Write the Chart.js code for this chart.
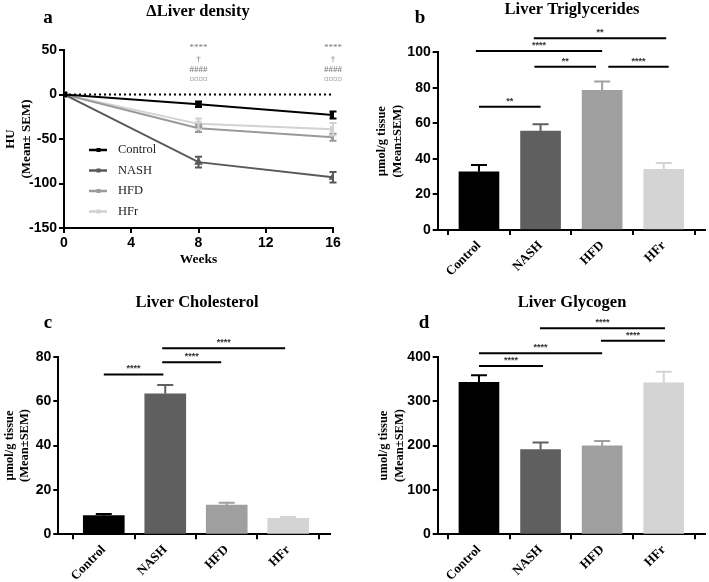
<!DOCTYPE html>
<html>
<head>
<meta charset="utf-8">
<script src="https://cdn.jsdelivr.net/npm/chart.js@4"></script>
<style>
  body { margin: 0; background: #fff; width: 709px; height: 582px; position: relative; overflow: hidden; }
  canvas { position: absolute; }
</style>
</head>
<body>
<canvas id="densityChart" width="355" height="290" style="left:0;top:0"></canvas>
<canvas id="trigChart" width="354" height="290" style="left:355px;top:0"></canvas>
<canvas id="cholChart" width="355" height="292" style="left:0;top:290px"></canvas>
<canvas id="glycChart" width="354" height="292" style="left:355px;top:290px"></canvas>
<script>
// groups shared by all panels
const groups = ['Control', 'NASH', 'HFD', 'HFr'];
const groupColors = ['#000000', '#5f5f5f', '#9f9f9f', '#d4d4d4'];

// panel a: change of liver density (HU)
const weeks = [0, 8, 16];
const weekTicks = [0, 4, 8, 12, 16];
const densityTicks = [-150, -100, -50, 0, 50];
const densityControl = [0, -11, -23];
const densityNASH = [0, -76, -93];
const densityHFD = [0, -38, -48];
const densityHFr = [0, -33, -39];
const densityControlSem = [0, 3, 4];
const densityNASHSem = [0, 6, 6];
const densityHFDSem = [0, 4, 4];
const densityHFrSem = [0, 6, 7];
const densityMarkWeeks = [8, 16];
const densityMarks = ['****', '†', '####', '¤¤¤¤'];

// panel b: triglycerides
const trigTicks = [0, 20, 40, 60, 80, 100];
const triglycerides = [32.8, 55.7, 78.6, 34.2];
const triglyceridesSem = [3.8, 3.8, 4.9, 3.5];
const trigSigFrom = [0, 0.9, 2.1, -0.05, 0.89];
const trigSigTo = [1, 1.9, 3.08, 2, 3.04];
const trigSigLevel = [69.4, 91.9, 91.9, 100.7, 107.9];
const trigSigLabel = ['**', '**', '****', '****', '**'];

// panel c: cholesterol
const cholTicks = [0, 20, 40, 60, 80];
const cholesterol = [8.4, 63.3, 13.2, 7.2];
const cholesterolSem = [0.8, 3.9, 1.0, 0.6];
const cholSigFrom = [0, 0.95, 0.95];
const cholSigTo = [0.97, 1.91, 2.95];
const cholSigLevel = [72, 77.5, 83.8];
const cholSigLabel = ['****', '****', '****'];

// panel d: glycogen
const glycTicks = [0, 100, 200, 300, 400];
const glycogen = [342, 191, 199, 341];
const glycogenSem = [16, 16, 11, 25];
const glycSigFrom = [0, 0, 1.98, 0.99];
const glycSigTo = [1.04, 2, 3.02, 3.02];
const glycSigLevel = [379, 407.6, 436, 464];
const glycSigLabel = ['****', '****', '****', '****'];

const serif = '"Liberation Serif", "Times New Roman", serif';
const sans = '"Liberation Sans", Arial, sans-serif';

const panelText = {
  id: 'panelText',
  afterDraw(chart, args, opts) {
    if (!opts.title) return;
    const ctx = chart.ctx;
    ctx.save();
    ctx.fillStyle = '#000';
    ctx.textBaseline = 'middle';
    ctx.textAlign = 'center';
    ctx.font = 'bold 16.5px ' + serif;
    ctx.fillText(opts.title, opts.titleX, opts.titleY);
    ctx.font = 'bold 19px ' + serif;
    ctx.fillText(opts.letter, opts.letterX, opts.letterY);
    ctx.restore();
  }
};

const errorBars = {
  id: 'errorBars',
  afterDatasetsDraw(chart) {
    const ctx = chart.ctx;
    const ys = chart.scales.y;
    ctx.save();
    chart.data.datasets.forEach((ds, i) => {
      if (!ds.sem) return;
      const meta = chart.getDatasetMeta(i);
      meta.data.forEach((el, j) => {
        const s = ds.sem[j];
        if (!s) return;
        const v = ds.data[j].y;
        const col = Array.isArray(ds.backgroundColor) ? ds.backgroundColor[j] : ds.borderColor;
        const top = ys.getPixelForValue(v + s);
        const bot = ds.bothSides ? ys.getPixelForValue(v - s) : ys.getPixelForValue(v);
        const cap = ds.bothSides ? 3.5 : 8;
        ctx.strokeStyle = col;
        ctx.lineWidth = 2;
        ctx.beginPath();
        ctx.moveTo(el.x, top); ctx.lineTo(el.x, bot);
        ctx.moveTo(el.x - cap, top); ctx.lineTo(el.x + cap, top);
        if (ds.bothSides) { ctx.moveTo(el.x - cap, bot); ctx.lineTo(el.x + cap, bot); }
        ctx.stroke();
      });
    });
    ctx.restore();
  }
};

const sigBars = {
  id: 'sigBars',
  afterDraw(chart, args, opts) {
    if (!opts.from) return;
    const {ctx, scales: {x, y}} = chart;
    ctx.save();
    opts.from.forEach((f, i) => {
      const x1 = x.getPixelForValue(f);
      const x2 = x.getPixelForValue(opts.to[i]);
      const py = y.getPixelForValue(opts.level[i]);
      ctx.strokeStyle = '#000';
      ctx.lineWidth = 2;
      ctx.beginPath(); ctx.moveTo(x1, py); ctx.lineTo(x2, py); ctx.stroke();
      ctx.fillStyle = '#333';
      ctx.font = 'bold 9px ' + sans;
      ctx.textAlign = 'center';
      ctx.textBaseline = 'alphabetic';
      ctx.fillText(opts.labels[i], (x1 + x2) / 2, py - 3);
    });
    ctx.restore();
  }
};

// zero line, stars and inside legend of panel a
const densityExtras = {
  id: 'densityExtras',
  beforeDatasetsDraw(chart) {
    const {ctx, chartArea, scales: {y}} = chart;
    const py = y.getPixelForValue(0);
    ctx.save();
    ctx.strokeStyle = '#000';
    ctx.lineWidth = 2;
    ctx.setLineDash([2, 3]);
    ctx.beginPath(); ctx.moveTo(chartArea.left, py); ctx.lineTo(chartArea.right, py); ctx.stroke();
    ctx.restore();
  },
  afterDraw(chart) {
    const {ctx, chartArea, scales: {x, y}} = chart;
    ctx.save();
    ctx.fillStyle = '#777';
    ctx.textAlign = 'center';
    ctx.textBaseline = 'middle';
    ctx.font = '9px ' + serif;
    const top = y.getPixelForValue(50);
    const offs = [-2, 10, 20, 30];
    densityMarkWeeks.forEach(w => {
      densityMarks.forEach((m, k) => ctx.fillText(m, x.getPixelForValue(w), top + offs[k]));
    });
    chart.data.datasets.forEach((ds, i) => {
      const ly = chartArea.top + 100 + i * 20.5;
      const lx = chartArea.left + 25;
      ctx.strokeStyle = ds.borderColor;
      ctx.lineWidth = 2.5;
      ctx.beginPath(); ctx.moveTo(lx, ly); ctx.lineTo(lx + 18, ly); ctx.stroke();
      ctx.fillStyle = ds.borderColor;
      ctx.fillRect(lx + 7.5, ly - 2, 4, 4);
      ctx.fillStyle = '#222';
      ctx.textAlign = 'left';
      ctx.font = '12.5px ' + serif;
      ctx.fillText(ds.label, lx + 29, ly);
    });
    ctx.restore();
  }
};

Chart.register(panelText, errorBars, sigBars);

const tickFont = {family: sans, size: 14, weight: 'bold'};
const axisGrid = {drawOnChartArea: false, drawTicks: true, tickLength: 5, color: '#000', lineWidth: 2};
const axisBorder = {display: true, color: '#000', width: 2};

const lineSet = (label, values, sem, color, style, rot) => ({
  label: label,
  data: weeks.map((w, i) => ({x: w, y: values[i]})),
  sem: sem,
  bothSides: true,
  borderColor: color,
  backgroundColor: color,
  borderWidth: 2,
  pointStyle: style,
  pointRotation: rot,
  pointRadius: 3,
  tension: 0
});

new Chart(document.getElementById('densityChart'), {
  type: 'line',
  data: {
    datasets: [
      lineSet('Control', densityControl, densityControlSem, groupColors[0], 'rect', 0),
      lineSet('NASH', densityNASH, densityNASHSem, '#595959', 'triangle', 0),
      lineSet('HFD', densityHFD, densityHFDSem, '#9a9a9a', 'triangle', 180),
      lineSet('HFr', densityHFr, densityHFrSem, '#d2d2d2', 'rect', 0)
    ]
  },
  options: {
    responsive: false,
    animation: false,
    layout: {padding: {top: 50, right: 22, left: 0, bottom: 0}},
    plugins: {
      legend: {display: false},
      tooltip: {enabled: false},
      panelText: {title: 'ΔLiver density', titleX: 198, titleY: 12, letter: 'a', letterX: 48, letterY: 18}
    },
    scales: {
      x: {
        type: 'linear', min: 0, max: 16,
        afterBuildTicks: s => { s.ticks = weekTicks.map(v => ({value: v})); },
        afterFit: s => { s.height = 62; },
        grid: axisGrid, border: axisBorder,
        ticks: {font: tickFont, color: '#000', padding: 2, maxRotation: 0},
        title: {display: true, text: 'Weeks', color: '#000', font: {family: serif, size: 13.5, weight: 'bold'}, padding: {top: 0, bottom: 22}}
      },
      y: {
        min: -150, max: 50,
        afterBuildTicks: s => { s.ticks = densityTicks.map(v => ({value: v})); },
        afterFit: s => { s.width = 64; },
        grid: axisGrid, border: axisBorder,
        ticks: {font: tickFont, color: '#000', padding: 2},
        title: {display: true, text: ['HU', '(Mean± SEM)'], color: '#000', font: {family: serif, size: 13, weight: 'bold', lineHeight: 1.2}, padding: {top: 3, bottom: 0}}
      }
    }
  },
  plugins: [densityExtras]
});

const barChart = (id, values, sem, ticksY, yMax, xMin, xMax, thick, sig, text, yTitle, yTitlePad) => new Chart(document.getElementById(id), {
  type: 'bar',
  data: {
    datasets: [{
      data: groups.map((g, i) => ({x: i, y: values[i]})),
      sem: sem,
      backgroundColor: groupColors,
      borderWidth: 0,
      barThickness: thick
    }]
  },
  options: {
    responsive: false,
    animation: false,
    layout: {padding: text.pad},
    plugins: {
      legend: {display: false},
      tooltip: {enabled: false},
      panelText: text,
      sigBars: sig
    },
    scales: {
      x: {
        type: 'linear', min: xMin, max: xMax, offset: false,
        afterBuildTicks: s => { s.ticks = groups.map((g, i) => ({value: i})); },
        afterFit: s => { s.height = text.xHeight; },
        grid: axisGrid, border: axisBorder,
        ticks: {font: {family: serif, size: 13, weight: 'bold'}, color: '#000', padding: 3, minRotation: 45, maxRotation: 45, callback: v => groups[v]}
      },
      y: {
        min: 0, max: yMax,
        afterBuildTicks: s => { s.ticks = ticksY.map(v => ({value: v})); },
        afterFit: s => { s.width = text.yWidth; },
        grid: axisGrid, border: axisBorder,
        ticks: {font: tickFont, color: '#000', padding: 2},
        title: {display: true, text: yTitle, color: '#000', font: {family: serif, size: 12.5, weight: 'bold', lineHeight: 1.25}, padding: {top: yTitlePad, bottom: 0}}
      }
    }
  }
});

barChart('trigChart', triglycerides, triglyceridesSem, trigTicks, 100, -0.67, 3.67, 40,
  {from: trigSigFrom, to: trigSigTo, level: trigSigLevel, labels: trigSigLabel},
  {title: 'Liver Triglycerides', titleX: 217, titleY: 10, letter: 'b', letterX: 65, letterY: 18,
   pad: {top: 52.3, right: 4, left: 0, bottom: 0}, xHeight: 60, yWidth: 82.7},
  ['µmol/g tissue', '(Mean±SEM)'], 19);

barChart('cholChart', cholesterol, cholesterolSem, cholTicks, 80, -0.74, 3.68, 41,
  {from: cholSigFrom, to: cholSigTo, level: cholSigLevel, labels: cholSigLabel},
  {title: 'Liver Cholesterol', titleX: 197, titleY: 13, letter: 'c', letterX: 48, letterY: 33,
   pad: {top: 66.7, right: 25, left: 0, bottom: 0}, xHeight: 47.7, yWidth: 58.3},
  ['µmol/g tissue', '(Mean±SEM)'], 1.5);

barChart('glycChart', glycogen, glycogenSem, glycTicks, 400, -0.67, 3.67, 40,
  {from: glycSigFrom, to: glycSigTo, level: glycSigLevel, labels: glycSigLabel},
  {title: 'Liver Glycogen', titleX: 217, titleY: 13, letter: 'd', letterX: 69, letterY: 33,
   pad: {top: 66.7, right: 4, left: 0, bottom: 0}, xHeight: 47.7, yWidth: 82.7},
  ['umol/g tissue', '(Mean±SEM)'], 21);
</script>
</body>
</html>
